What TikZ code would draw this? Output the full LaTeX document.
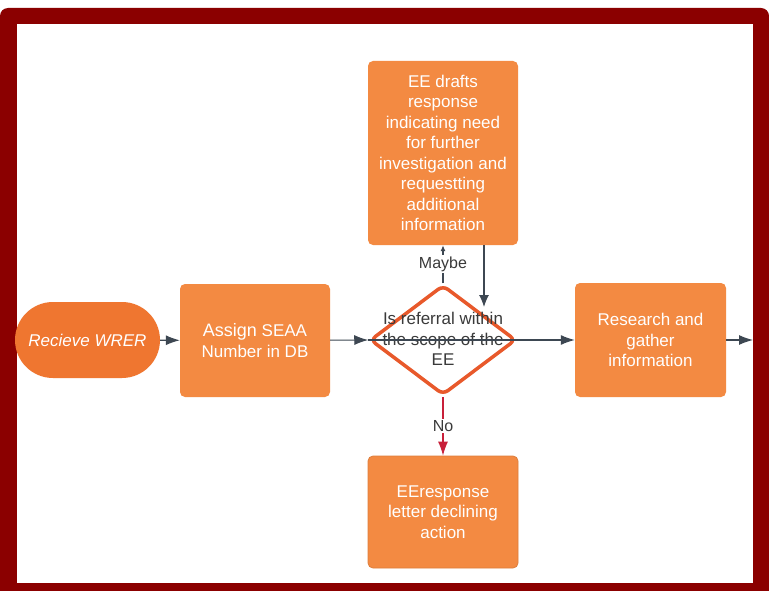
\documentclass[tikz,border=0pt]{standalone}
\usepackage{fontspec}
\setmainfont{Liberation Sans}
\usetikzlibrary{shapes.geometric,arrows.meta}

\definecolor{framered}{HTML}{8B0000}
\definecolor{boxorange}{HTML}{F38A42}
\definecolor{startorange}{HTML}{EF7630}
\definecolor{rimorange}{HTML}{E8592B}
\definecolor{linegray}{HTML}{3D4752}
\definecolor{textgray}{HTML}{3A3A3A}
\definecolor{nored}{HTML}{C8203A}

\tikzset{
  process/.style={rectangle, rounded corners=5pt, fill=boxorange, text=white,
    align=center, minimum width=150pt, font=\fontsize{17}{20.5}\selectfont},
  terminal/.style={rectangle, rounded corners=38pt, fill=startorange, text=white,
    minimum width=145pt, minimum height=76pt, font=\fontsize{17}{20.5}\selectfont\itshape},
  decision/.style={diamond, draw=rimorange, line width=3.5pt, rounded corners=6pt,
    minimum width=146pt, minimum height=110pt, inner sep=0pt, aspect=1.33},
  decisiontext/.style={text=textgray, align=center, font=\fontsize{17}{20.5}\selectfont},
  flow/.style={draw=linegray, line width=1.1pt, -{Latex[length=14pt,width=10pt]}},
  answer/.style={fill=white, text=textgray, inner sep=1.5pt, font=\fontsize{16}{18}\selectfont}
}

\begin{document}
\begin{tikzpicture}[x=1pt,y=-1pt]
\useasboundingbox (0,0) rectangle (769,591);
\clip (0,0) rectangle (769,591);

% frame
\fill[framered, rounded corners=8pt] (0,8) rectangle (769,612);
\fill[white] (17,24) rectangle (753,583);

% nodes
\node[terminal] (wrer) at (87.5,340) {Recieve WRER};
\node[process, minimum height=113pt] (assign) at (255,340.5)
  {{\fontsize{18}{20.5}\selectfont Assign} SEAA\\Number in DB};
\node[decision] (scope) at (443,340) {};
\node[decisiontext] (scopetext) at (443,339) {Is referral within\\the scope of the\\EE};
\node[process, minimum height=184pt] (drafts) at (443,153)
  {EE drafts\\response\\indicating need\\for further\\investigation and\\requestting\\additional\\information};
\node[process, minimum height=112pt, draw=boxorange!85!black!60!boxorange, line width=0.8pt] (decline) at (443,512)
  {EEresponse\\letter declining\\action};
\node[process, minimum width=151pt, minimum height=114pt] (research) at (650.5,340)
  {Research and\\gather\\information};
\coordinate (into) at (484,307);
\coordinate (exit) at (753,340);

% connectors
\draw[flow] (wrer) -- (assign);
\draw[flow] (assign) -- (scope.west);
\draw[flow] (scope.west) -- (research);
\draw[flow] (research) -- (exit);
\draw[draw=linegray, line width=1.1pt, -{Latex[length=6pt,width=5pt]}] (scope.north) -- (drafts.south)
  node[answer, midway] {Maybe};
\draw[flow, -{Latex[length=12pt,width=10pt]}] (drafts.south -| into) -- (into);
\draw[draw=nored, line width=1.1pt, -{Latex[length=14pt,width=10pt]}] (scope.south) -- (decline.north)
  node[answer, midway] {No};
\end{tikzpicture}
\end{document}
